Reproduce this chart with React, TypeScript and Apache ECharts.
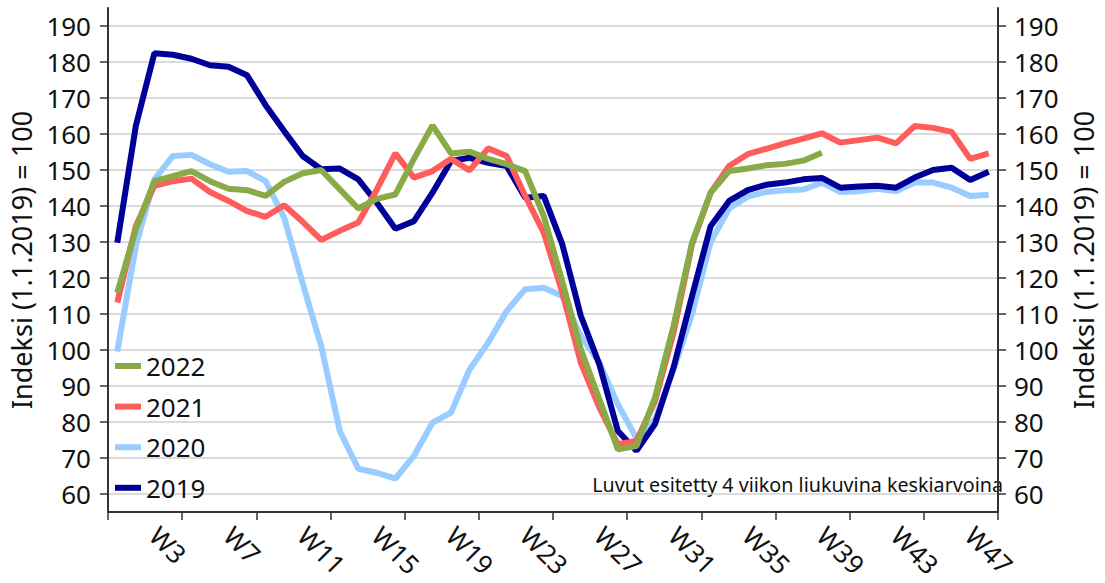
import React, { useEffect, useRef } from "react";
import * as echarts from "echarts";

const categories = [
  "W1", "W2", "W3", "W4", "W5", "W6", "W7", "W8", "W9", "W10", "W11", "W12",
  "W13", "W14", "W15", "W16", "W17", "W18", "W19", "W20", "W21", "W22", "W23", "W24",
  "W25", "W26", "W27", "W28", "W29", "W30", "W31", "W32", "W33", "W34", "W35", "W36",
  "W37", "W38", "W39", "W40", "W41", "W42", "W43", "W44", "W45", "W46", "W47", "W48",
];

const yTickValues = [60, 70, 80, 90, 100, 110, 120, 130, 140, 150, 160, 170, 180, 190];

const values2019 = [
  129.8, 162.2, 182.4, 182.0, 180.9, 179.1, 178.7, 176.3, 168.0, 160.8, 153.9, 150.2,
  150.4, 147.4, 140.9, 133.7, 135.8, 143.7, 152.5, 153.4, 152.0, 151.1, 142.3, 142.8,
  129.4, 109.5, 96.0, 77.5, 72.0, 79.4, 95.1, 115.0, 134.4, 141.4, 144.4, 145.9,
  146.5, 147.4, 147.8, 145.1, 145.4, 145.6, 145.1, 147.9, 150.0, 150.6, 147.2, 149.5,
];

const values2020 = [
  99.6, 128.9, 147.4, 153.9, 154.2, 151.6, 149.5, 149.7, 146.9, 136.8, 118.5, 101.1,
  77.5, 67.0, 65.9, 64.3, 70.6, 79.8, 82.6, 94.6, 102.0, 110.8, 116.9, 117.3,
  115.0, 103.9, 96.5, 84.9, 75.5, 80.7, 94.6, 110.0, 130.0, 139.3, 142.6, 143.9,
  144.4, 144.6, 146.5, 143.9, 144.1, 144.8, 144.1, 146.5, 146.5, 145.1, 142.8, 143.1,
];

const values2021 = [
  113.2, 134.4, 145.6, 146.9, 147.6, 143.9, 141.4, 138.6, 137.0, 140.2, 135.6, 130.6,
  133.1, 135.4, 144.6, 154.6, 147.9, 149.7, 153.1, 149.9, 156.0, 153.9, 142.8, 132.6,
  116.0, 96.5, 84.0, 73.8, 74.7, 85.8, 104.8, 129.4, 143.7, 151.1, 154.4, 155.9,
  157.4, 158.7, 160.2, 157.6, 158.3, 159.0, 157.4, 162.2, 161.7, 160.6, 153.1, 154.6,
];

const values2022 = [
  115.9, 133.5, 146.9, 148.3, 149.7, 146.9, 144.8, 144.4, 142.8, 146.7, 149.1, 150.0,
  144.6, 139.3, 142.0, 143.2, 153.1, 162.4, 154.6, 155.1, 153.1, 151.6, 149.7, 137.2,
  119.0, 100.2, 86.3, 72.4, 73.3, 86.8, 106.7, 129.8, 143.7, 149.7, 150.4, 151.3,
  151.7, 152.6, 154.8,
];

const seriesNames = ["2020", "2019", "2021", "2022"];
const seriesValues = [values2020, values2019, values2021, values2022];
const seriesColors = ["#99ccff", "#000099", "#ff5c5c", "#88ab48"];
const legendOrder = ["2022", "2021", "2020", "2019"];

const axisTitle = "Indeksi (1.1.2019) = 100";
const noteText = "Luvut esitetty 4 viikon liukuvina keskiarvoina";

export default function App() {
  const ref = useRef<HTMLDivElement>(null);

  useEffect(() => {
    if (!ref.current) return;
    const chart = echarts.init(ref.current, null, { renderer: "svg" });
    const font = "'Noto Sans', sans-serif";
    const textColor = "#111";

    const makeYAxis = (position: "left" | "right") => ({
      type: "value",
      position,
      min: 55,
      max: 195,
      name: axisTitle,
      nameLocation: "middle",
      nameGap: position === "left" ? 69 : 72,
      nameTextStyle: { fontSize: 27, color: textColor, fontFamily: font },
      axisLine: { show: true, lineStyle: { color: "#333", width: 2 } },
      axisTick: {
        show: true,
        length: 8,
        customValues: yTickValues,
        lineStyle: { color: "#333", width: 1.5 },
      },
      axisLabel: {
        customValues: yTickValues,
        fontSize: 26,
        color: textColor,
        fontFamily: font,
        margin: position === "left" ? 17 : 16,
      },
      splitLine: {
        show: position === "left",
        lineStyle: { color: "#cfcfcf", width: 1.5 },
      },
    });

    chart.setOption({
      animation: false,
      backgroundColor: "#ffffff",
      textStyle: { fontFamily: font },
      grid: { left: 108, right: 99, top: 8, bottom: 71, containLabel: false },
      legend: {
        show: true,
        orient: "vertical",
        left: 115,
        top: 353,
        padding: 0,
        icon: "rect",
        itemWidth: 26,
        itemHeight: 6,
        itemGap: 14.6,
        selectedMode: false,
        data: legendOrder,
        textStyle: { fontSize: 26, color: textColor, fontFamily: font },
      },
      xAxis: {
        type: "category",
        data: categories,
        boundaryGap: true,
        axisLine: { show: true, lineStyle: { color: "#333", width: 2 } },
        axisTick: {
          show: true,
          length: 8,
          interval: (i: number) => i % 4 === 0,
          lineStyle: { color: "#333", width: 1.5 },
        },
        axisLabel: {
          interval: (i: number) => i % 4 === 2,
          rotate: -45,
          fontSize: 26,
          color: textColor,
          fontFamily: font,
          margin: 19,
        },
        splitLine: { show: false },
      },
      yAxis: [makeYAxis("left"), makeYAxis("right")],
      graphic: [
        {
          type: "text",
          right: 102,
          top: 474,
          style: {
            text: noteText,
            fontSize: 19.7,
            fill: textColor,
            fontFamily: font,
          },
        },
      ],
      series: seriesNames.map((name, k) => ({
        name,
        type: "line",
        yAxisIndex: 0,
        data: seriesValues[k],
        color: seriesColors[k],
        symbol: "none",
        showSymbol: false,
        lineStyle: { width: 6, color: seriesColors[k] },
        itemStyle: { color: seriesColors[k] },
        z: 2 + k,
      })),
    });

    return () => chart.dispose();
  }, []);

  return (
    <div
      ref={ref}
      style={{ position: "fixed", left: 0, top: 0, width: 1105, height: 583 }}
    />
  );
}
